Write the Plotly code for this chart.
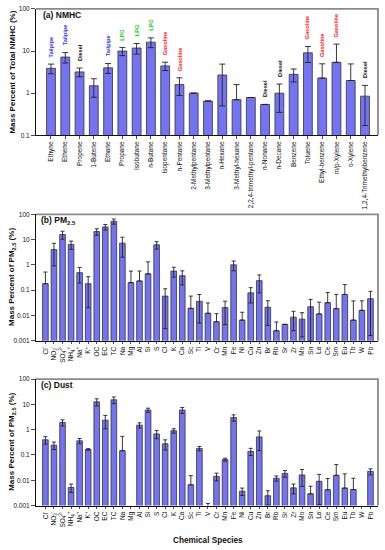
import plotly.graph_objects as go
import math

# ---------------- data ----------------
nmhc_species = ["Ethyne", "Ethene", "Propene", "1-Butene", "Ethane", "Propane", "Isobutane",
                "n-Butane", "Isopentane", "n-Pentane", "2-Methylpentane", "3-Methylpentane",
                "n-Hexane", "3-Methyl-hexane", "2,2,4-trimethyl-pentane", "n-Nonane", "n-Decane",
                "Benzene", "Toluene", "Ethyl-benzene", "m/p-Xylene", "o-Xylene",
                "1,2,4-Trimethylbenzene"]
nmhc_values = [3.9, 7.2, 3.2, 1.5, 4.0, 10.0, 11.8, 16.3, 4.45, 1.6, 1.0, 0.65,
               2.7, 0.70, 0.79, 0.54, 1.0, 2.8, 9.1, 2.28, 5.4, 2.0, 0.85]
nmhc_errors = [1.0, 2.0, 0.75, 0.7, 1.05, 2.2, 3.3, 4.25, 1.0, 0.72, 0.0, 0.0,
               2.2, 0.9, 0.0, 0.0, 0.65, 0.95, 3.75, 2.7, 9.2, 2.95, 0.68]
nmhc_sources = ["Tailpipe", "Tailpipe", "Diesel", "", "Tailpipe", "LPG", "LPG", "LPG",
                "Gasoline", "Gasoline", "", "", "", "", "", "Diesel", "Diesel", "",
                "Gasoline", "Gasoline", "Gasoline", "", "Diesel"]
source_colors = {"Tailpipe": "#3333dd", "LPG": "#22cc22", "Gasoline": "#ff2020", "Diesel": "#111111"}

pm_species = ["Cl<sup>-</sup>", "NO<sub>3</sub><sup>-</sup>", "SO<sub>4</sub><sup>2-</sup>",
              "NH<sub>4</sub><sup>+</sup>", "Na<sup>+</sup>", "K<sup>+</sup>", "OC", "EC", "TC",
              "Na", "Mg", "Al", "Si", "S", "Cl", "K", "Ca", "Sc", "Ti", "V", "Cr", "Mn", "Fe",
              "Ni", "Cu", "Zn", "Br", "Rb", "Sr", "Zr", "Mo", "Sn", "La", "Ce", "Sm", "Eu",
              "Tb", "W", "Pb"]

pm25_values = [0.18, 4.0, 15.8, 6.4, 0.49, 0.18, 20.7, 31.6, 52.7, 7.2, 0.198, 0.23, 0.44,
               6.2, 0.058, 0.565, 0.37, 0.019, 0.036, 0.0121, 0.0056, 0.0203, 1.0, 0.0065,
               0.078, 0.237, 0.021, 0.00247, 0.0044, 0.0085, 0.0071, 0.022, 0.0114, 0.0317,
               0.0185, 0.0674, 0.0065, 0.0158, 0.0456]
pm25_errors = [0.34, 3.1, 5.5, 2.3, 0.3, 0.16, 6.0, 8.0, 12.0, 5.2, 0.37, 0.34, 0.87,
               2.0, 0.055, 0.24, 0.21, 0.039, 0.031, 0.019, 0.0061, 0.016, 0.42, 0.0068,
               0.047, 0.16, 0.017, 0.003, 0.0, 0.006, 0.0057, 0.021, 0.022, 0.048,
               0.049, 0.098, 0.031, 0.022, 0.044]

dust_values = [0.40, 0.245, 1.93, 0.0052, 0.363, 0.166, 12.7, 2.38, 15.2, 0.147, None, 1.52,
               6.0, 0.68, 0.277, 0.91, 6.0, 0.0066, 0.182, 0.0006, 0.0143, 0.066, 3.02,
               0.0037, 0.139, 0.52, 0.00245, 0.012, 0.0187, 0.0050, 0.0162, 0.0029, 0.0091,
               0.0042, 0.0157, 0.0049, 0.0043, None, 0.0224]
dust_errors = [0.13, 0.08, 0.53, 0.0019, 0.085, 0.012, 4.0, 1.3, 4.5, 0.40, 0.0, 0.35,
               1.1, 0.24, 0.12, 0.18, 1.6, 0.0086, 0.036, 0.0006, 0.0048, 0.009, 0.85,
               0.0012, 0.044, 0.37, 0.0014, 0.0028, 0.0055, 0.0021, 0.0105, 0.0029, 0.008,
               0.0074, 0.026, 0.013, 0.0077, 0.0, 0.006]

y_tickvals = [0.001, 0.01, 0.1, 1, 10, 100]
y_ticktext = ["0.001", "0.01", "0.1", "1", "10", "100"]

# ---------------- layout helpers ----------------
W, H = 385, 550
FONT = "Arial, Liberation Sans, sans-serif"
BAR_FILL = "#7474f2"
BAR_LINE = "#333333"

x0p, x1p = 36 / W, 378 / W
panels = {
    "a": (1 - 133 / H, 1 - 5 / H),
    "b": (1 - 341 / H, 1 - 213 / H),
    "c": (1 - 508 / H, 1 - 380 / H),
}


def minus_err(vals, errs):
    out = []
    for v, e in zip(vals, errs):
        if v is None or e >= v:
            out.append(0.0)
        else:
            out.append(e)
    return out


fig = go.Figure()


def add_panel(idx, vals, errs, names, cap, bw):
    xs = list(range(len(names)))
    sfx = "" if idx == 1 else str(idx)
    fig.add_trace(go.Bar(
        x=xs, y=vals, width=bw,
        marker=dict(color=BAR_FILL, line=dict(color=BAR_LINE, width=0.8)),
        error_y=dict(type="data", symmetric=False, array=errs,
                     arrayminus=minus_err(vals, errs),
                     color="#222222", thickness=0.9, width=cap),
        xaxis="x" + sfx, yaxis="y" + sfx, showlegend=False, hoverinfo="skip",
    ))


add_panel(1, nmhc_values, nmhc_errors, nmhc_species, 3, 0.62)
add_panel(2, pm25_values, pm25_errors, pm_species, 2, 0.66)
add_panel(3, dust_values, dust_errors, pm_species, 2, 0.66)

tickfont = dict(family=FONT, size=6.5, color="#111")


def xaxis_cfg(names, anchor, rng):
    return dict(domain=[x0p, x1p], anchor=anchor, range=rng,
                tickmode="array", tickvals=list(range(len(names))), ticktext=names,
                tickangle=-90, tickfont=tickfont, ticks="outside", ticklen=2.5,
                tickwidth=0.8, tickcolor="#222", showline=True, linecolor="#111",
                linewidth=1, showgrid=False, zeroline=False, fixedrange=True)


def yaxis_cfg(dom, anchor, rng):
    return dict(domain=list(dom), anchor=anchor, type="log", range=rng,
                tickmode="array", tickvals=y_tickvals, ticktext=y_ticktext,
                tickfont=tickfont, ticks="outside", ticklen=4, tickwidth=0.8,
                tickcolor="#222", showline=True, linecolor="#111", linewidth=1,
                showgrid=False, zeroline=False, fixedrange=True)


fig.update_layout(
    width=W, height=H, margin=dict(l=0, r=0, t=0, b=0),
    paper_bgcolor="white", plot_bgcolor="white",
    font=dict(family=FONT),
    bargap=0.3,
    xaxis=xaxis_cfg(nmhc_species, "y", [-1.05, 22.91]),
    yaxis=yaxis_cfg(panels["a"], "x", [-1, 2]),
    xaxis2=xaxis_cfg(pm_species, "y2", [-1.1, 38.88]),
    yaxis2=yaxis_cfg(panels["b"], "x2", [-3, 2]),
    xaxis3=xaxis_cfg(pm_species, "y3", [-1.1, 38.88]),
    yaxis3=yaxis_cfg(panels["c"], "x3", [-3, 2]),
)

shapes = []
annotations = []
for key, (y0, y1) in panels.items():
    shapes.append(dict(type="line", xref="paper", yref="paper", x0=x0p, x1=x1p + 0.002,
                       y0=y1, y1=y1, line=dict(color="#8a8a8a", width=1.8)))
    shapes.append(dict(type="line", xref="paper", yref="paper", x0=x1p, x1=x1p,
                       y0=y0, y1=y1, line=dict(color="#8a8a8a", width=1.8)))

# panel labels
annotations.append(dict(xref="paper", yref="paper", x=41 / W, y=1 - 11 / H, xanchor="left",
                        yanchor="middle", showarrow=False, text="<b>(a) NMHC</b>",
                        font=dict(family=FONT, size=8.5, color="#111")))
annotations.append(dict(xref="paper", yref="paper", x=39 / W, y=1 - 219 / H, xanchor="left",
                        yanchor="middle", showarrow=False, text="<b>(b) PM<sub>2.5</sub></b>",
                        font=dict(family=FONT, size=8.5, color="#111")))
annotations.append(dict(xref="paper", yref="paper", x=39 / W, y=1 - 386 / H, xanchor="left",
                        yanchor="middle", showarrow=False, text="<b>(c) Dust</b>",
                        font=dict(family=FONT, size=8.5, color="#111")))

# y titles
ytitles = {"a": "<b>Mass Percent of Total NMHC (%)</b>",
           "b": "<b>Mass Percent of PM<sub>2.5</sub> (%)</b>",
           "c": "<b>Mass Percent of PM<sub>2.5</sub> (%)</b>"}
for key, (y0, y1) in panels.items():
    annotations.append(dict(xref="paper", yref="paper", x=12.5 / W, y=(y0 + y1) / 2,
                            xanchor="center", yanchor="middle", textangle=-90,
                            showarrow=False, text=ytitles[key],
                            font=dict(family=FONT, size=8, color="#111")))

# x title
annotations.append(dict(xref="paper", yref="paper", x=208 / W, y=1 - 543 / H,
                        xanchor="center", yanchor="middle", showarrow=False,
                        text="<b>Chemical Species</b>",
                        font=dict(family=FONT, size=8.2, color="#111")))

# source labels above NMHC bars
for i, src in enumerate(nmhc_sources):
    if not src:
        continue
    top = nmhc_values[i] + nmhc_errors[i]
    annotations.append(dict(xref="x", yref="y", x=i, y=math.log10(top),
                            xanchor="center", yanchor="bottom", yshift=5,
                            textangle=-90, showarrow=False, text="<b>" + src + "</b>",
                            font=dict(family=FONT, size=5.6, color=source_colors[src])))

fig.update_layout(shapes=shapes, annotations=annotations)
fig.write_html("out.html", config={"displayModeBar": False, "staticPlot": True},
               post_script="document.body.style.margin='0';document.body.style.overflow='hidden';")
